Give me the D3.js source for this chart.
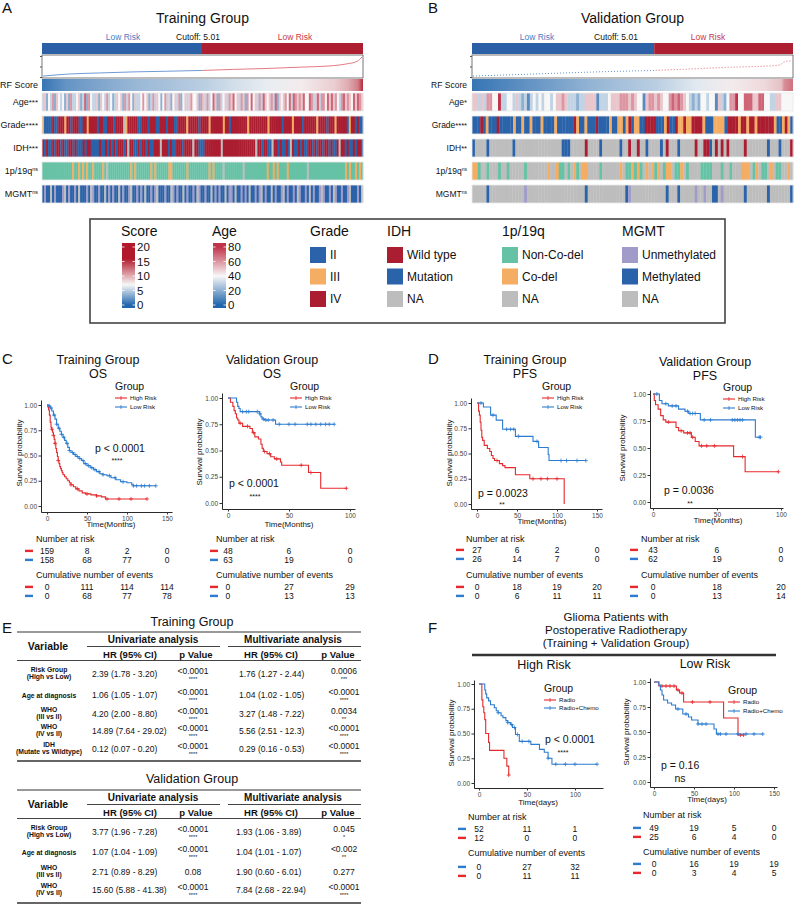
<!DOCTYPE html>
<html>
<head>
<meta charset="utf-8">
<script src="https://d3js.org/d3.v7.min.js"></script>
<style>
  body { margin: 0; background: #fff; }
  svg text { font-family: "Liberation Sans", Arial, sans-serif; fill: #111; }
</style>
</head>
<body>
<svg id="fig" width="794" height="905"></svg>
<script>
// ---------------- data ----------------
// heatmaps (samples sorted by RF score)
var nTrain = 317, cutTrain = 158, nValid = 111, cutValid = 63;
var scoreIdxTrain = [0, 24, 57, 90, 123, 158, 189, 222, 255, 288, 301, 311, 316];
var scoreTrain    = [0.7, 2.2, 3.1, 3.9, 4.4, 5.0, 5.8, 6.5, 7.5, 8.7, 10, 11.9, 15.3];
var scoreIdxValid = [0, 20, 43, 63, 77, 89, 100, 106, 107, 110];
var scoreValid    = [0.7, 2.2, 3.9, 5.0, 6.3, 7.5, 8.2, 9.2, 11.2, 12.4];

// age in decades, grade 2/3/4, IDH W/M/N, 1p19q C(non-codel)/D(codel)/N, MGMT U/M/N
var ageTrain = "3524 3625 4342 5263 3452 3726 4335 2543 6342 3545 2636 4253 3464 5236 3542 4635 2453 6245 3564 4526 5363 4752 6345 3657 4536 5264 7453 6375 4563 7254 5647 3765 6574 4763 5736 6475 7564 3675 6547 5765";
var gradeTrain = "3 2222 4 22 444 3 44 2 444 22 44 3 4444 2 44 22 444 2 4444 N 3 44444 22 444 2 444 22 444 2 444 22 4444 3 44444 2 4444 3 444444 3 44 2 44444444 3 444444444 3 444444 2 4444 3 4444 2 444444 3 4444 2 444 3 44444 2 3 44 2 4 22";
var idhTrain = "W M W MM W M WW M W MM WW M W MMM W M WW MMMM W M MWMWMWMW WW M W N WW MM W M WW M W MM WWW N WWW M W MM WWW M WWWW N WW MMM WWWWWWWW N WWWWWWWWWW WWWWWW N WW M WW MM N WW M W MM W M N W MM W M W MM WW M W M WW M WW M W MM W N WW M W MM W M WW M";
var codelTrain = "CCCCCCCCCCCCCCC D CC D C D C D CC D CCCC D C N CCCCCCCCCCC D C D CCCCCCC D C D CCCCCC DD CCCCCCC D CCCCCCCCCC D C D CCCC N CCCCCCCCC N CCCCCCCCCCC D CC D C D CCCC D CCCCCCCCC N CCCCCCCCCCCCCCCCCC D C D CC D C D C";
var mgmtTrain = "MUMM NMUM MMUN MUMM UMNM MMUM NUMM UMMN MUMU MMNM UMMU NMMU MUMN MMUM UNMM MUMM NUMU MMNM UMMU MNUM MUMM NMUM UMMN MUUM NMMU MUMN MMUM UNMU MMNM UMMU NMUM MUMN UMMU MNMU MMUN UMMU MNUM MUMM UNMM MUMN";

var ageValid = "553 5 3 66 44 8 33 44 3 5 323 1 34343 4434 5565 333 233 55 55 1 3334 5556 665654 4 1 566565 44 676765 4 3232 44 3 44 1 5 32 4 66 8 44 777 55 77 44 33 55 4444";
var gradeValid = "222 4 2 3 222 4 22222 3 22 3 22 3 222 3 2222 3 222222 4 3 22 3 222 4 2222 3 22 33 2 3 4 2 33 2 2 4444 222 3 4 22 4 33 4 33 4444 3 222 3333 2 4444 3 44 3 44 3 444444 3 22 3 4 3 2";
var idhValid = "M NNNN M NNNNNNNN M NNNNNNNNNNNNNNNN MMM NNNNN W NNNN M NNNNNN M NN W NN W NN M NNNN M N W NNN M NNNNN W NN WW M N W N W N W NNNNN W NNNNNNN M NNN M NNN W";
var codelValid = "DD C NN C NNN C NN C NNNNN C NNNNNNN D NN D CC N C N D C N DD NNNN C NNNNNN D N CC D C D C N D N D C D N C DD N CC D N C NNNN CCCC NNN C NN C NNN DDD N C D N CC N D N CC NN D N";
var mgmtValid = "NNNNN M NNNNNNNNNNNN U NNNNNNNNNNNNNNNNNNNN M NNNNNNNNNNNNN M U NNNNNNNNNNNN M NNN M NNNNN U NN U NN MM N U NNNNNNN M NNNNNNN M NNNNNNN M";

// Kaplan-Meier curves: [time, survival] steps, censor times
var osTrainHigh = [[0,1],[1,.98],[2,.95],[3,.9],[4,.83],[5,.78],[6,.76],[7,.73],[8,.7],[9,.66],[10,.62],[11,.57],[12,.53],[13,.49],[14,.45],[15,.42],[16,.39],[17,.37],[18,.35],[19,.33],[20,.31],[22,.29],[24,.27],[26,.25],[28,.23],[30,.21],[33,.19],[36,.17],[40,.15],[44,.13],[48,.12],[55,.11],[62,.1],[68,.09],[73,.07],[125,.07]];
var osTrainHighCens = [6, 8, 10, 14, 30, 38, 50, 62, 75, 90, 105, 125];
var osTrainLow = [[0,1],[2,.99],[4,.97],[6,.94],[8,.9],[10,.86],[12,.81],[14,.77],[16,.74],[18,.71],[20,.68],[22,.65],[24,.62],[26,.58],[28,.55],[30,.53],[33,.51],[36,.49],[40,.47],[43,.45],[46,.42],[50,.4],[54,.38],[58,.36],[62,.34],[66,.32],[70,.31],[75,.3],[80,.28],[86,.26],[92,.24],[100,.23],[106,.21],[108,.2],[136,.2]];
var osTrainLowCens = [3, 5, 9, 12, 15, 18, 21, 25, 28, 32, 35, 38, 41, 45, 48, 52, 56, 60, 65, 70, 78, 85, 95, 108, 112, 118, 122, 128, 136];
var osValidHigh = [[0,1],[2,.96],[4,.92],[5,.88],[6,.85],[7,.81],[8,.79],[9,.76],[12,.73],[18,.71],[20,.67],[22,.63],[25,.61],[27,.56],[28,.52],[29,.49],[32,.47],[35,.44],[38,.42],[43,.39],[44,.36],[66,.29],[76,.14],[97,.14]];
var osValidHighCens = [10, 16, 21, 30, 34, 40, 60, 68, 97];
var osValidLow = [[0,1],[6,1],[7,.96],[8,.92],[9,.9],[10,.87],[26,.85],[27,.82],[28,.8],[30,.79],[39,.75],[87,.75]];
var osValidLowCens = [12, 15, 17, 24, 26, 29, 31, 33, 37, 42, 50, 55, 65, 68, 72, 76, 80, 83, 87];

var pfsTrainHigh = [[0,1],[2,.92],[3,.88],[4,.81],[5,.73],[6,.66],[7,.63],[9,.58],[13,.55],[16,.52],[18,.48],[20,.45],[22,.43],[28,.4],[32,.38],[35,.36],[48,.29],[66,.25],[109,0]];
var pfsTrainHighCens = [25, 70, 80, 88, 100];
var pfsTrainLow = [[0,1],[8,.96],[17,.88],[24,.83],[32,.74],[48,.67],[70,.62],[77,.56],[89,.49],[90,.43],[136,.43]];
var pfsTrainLowCens = [5, 20, 37, 42, 46, 52, 75, 105, 112, 125, 136];
var pfsValidHigh = [[0,1],[1,.94],[2,.9],[4,.86],[6,.8],[8,.76],[10,.74],[18,.69],[20,.66],[24,.64],[30,.6],[33,.56],[36,.52],[63,.42],[72,.28],[98,.28]];
var pfsValidHighCens = [12, 22, 27, 29, 31, 38, 42, 48, 70, 98];
var pfsValidLow = [[0,1],[5,.94],[7,.91],[12,.89],[20,.86],[25,.84],[28,.82],[37,.76],[80,.6],[84,.6]];
var pfsValidLowCens = [3, 10, 15, 18, 27, 29, 31, 33, 40, 45, 62, 64, 66, 68, 70, 83, 84];

var rtHighRadio = [[0,1],[3,.84],[4,.77],[5,.71],[6,.64],[7,.5],[10,.41],[11,.33],[26,.25],[29,.17],[31,.08]];
var rtHighRadioCens = [31];
var rtHighChemo = [[0,1],[6,.94],[7,.9],[8,.86],[10,.83],[12,.79],[16,.76],[18,.73],[20,.71],[23,.68],[25,.66],[28,.63],[30,.61],[33,.59],[35,.56],[38,.49],[42,.42],[54,.39],[63,.34],[68,.31],[72,.25],[76,.19],[123,.19]];
var rtHighChemoCens = [20, 30, 34, 37, 40, 45, 52, 72, 80, 90, 100, 123];
var rtLowRadio = [[0,1],[6,.96],[28,.92],[32,.89],[37,.8],[87,.64],[105,.47],[112,.47]];
var rtLowRadioCens = [10, 15, 20, 25, 30, 35, 48, 70, 108, 112];
var rtLowChemo = [[0,1],[6,.97],[8,.92],[10,.87],[12,.82],[17,.79],[22,.77],[27,.73],[36,.68],[43,.65],[47,.62],[55,.58],[75,.53],[78,.48],[136,.48]];
var rtLowChemoCens = [30, 40, 55, 60, 65, 80, 83, 90, 105, 115, 125, 136];

// risk tables
var osTrainRisk = [[159, 8, 2, 0], [158, 68, 77, 0]], osTrainEvents = [[0, 111, 114, 114], [0, 68, 77, 78]];
var osValidRisk = [[48, 6, 0], [63, 19, 0]], osValidEvents = [[0, 27, 29], [0, 13, 13]];
var pfsTrainRisk = [[27, 6, 2, 0], [26, 14, 7, 0]], pfsTrainEvents = [[0, 18, 19, 20], [0, 6, 11, 11]];
var pfsValidRisk = [[43, 6, 0], [62, 19, 0]], pfsValidEvents = [[0, 18, 20], [0, 13, 14]];
var rtHighRisk = [[52, 11, 1], [12, 0, 0]], rtHighEvents = [[0, 27, 32], [0, 11, 11]];
var rtLowRisk = [[49, 19, 5, 0], [25, 6, 4, 0]], rtLowEvents = [[0, 16, 19, 19], [0, 3, 4, 5]];

// cox tables
var trainVars = [["Risk Group", "(High vs Low)"], ["Age at diagnosis"], ["WHO", "(III vs II)"], ["WHO", "(IV vs II)"], ["IDH", "(Mutate vs Wildtype)"]];
var trainUniHR = ["2.39 (1.78 - 3.20)", "1.06 (1.05 - 1.07)", "4.20 (2.00 - 8.80)", "14.89 (7.64 - 29.02)", "0.12 (0.07 - 0.20)"];
var trainUniP = ["<0.0001", "<0.0001", "<0.0001", "<0.0001", "<0.0001"];
var trainUniStars = ["****", "****", "****", "****", "****"];
var trainMultiHR = ["1.76 (1.27 - 2.44)", "1.04 (1.02 - 1.05)", "3.27 (1.48 - 7.22)", "5.56 (2.51 - 12.3)", "0.29 (0.16 - 0.53)"];
var trainMultiP = ["0.0006", "<0.0001", "0.0034", "<0.0001", "<0.0001"];
var trainMultiStars = ["***", "****", "**", "****", "****"];
var validVars = [["Risk Group", "(High vs Low)"], ["Age at diagnosis"], ["WHO", "(III vs II)"], ["WHO", "(IV vs II)"]];
var validUniHR = ["3.77 (1.96 - 7.28)", "1.07 (1.04 - 1.09)", "2.71 (0.89 - 8.29)", "15.60 (5.88 - 41.38)"];
var validUniP = ["<0.0001", "<0.0001", "0.08", "<0.0001"];
var validUniStars = ["****", "****", "", "****"];
var validMultiHR = ["1.93 (1.06 - 3.89)", "1.04 (1.01 - 1.07)", "1.90 (0.60 - 6.01)", "7.84 (2.68 - 22.94)"];
var validMultiP = ["0.045", "<0.002", "0.277", "<0.0001"];
var validMultiStars = ["*", "**", "", "****"];

// ---------------- drawing ----------------
var svg = d3.select("#fig");
var defs = svg.append("defs");

var RED = "#e5292d", BLUE = "#2c7cd0";
var HRED = "#ab1d31", HBLUE = "#2a63a9", ORANGE = "#f4ad62", GREEN = "#66c2a5", GREY = "#bdbdbd", PURPLE = "#a09cca";
var scoreColor = d3.scaleLinear().domain([0, 7, 16]).range(["#2166ac", "#f7f7f7", "#b2182b"]).clamp(true);
var ageColor = d3.scaleLinear().domain([0, 40, 80]).range(["#2166ac", "#f7f7f7", "#c0334a"]).clamp(true);
var gradeCol = { "2": HBLUE, "3": ORANGE, "4": HRED, "N": GREY };
var idhCol = { W: HRED, M: HBLUE, N: GREY };
var codelCol = { C: GREEN, D: ORANGE, N: GREY };
var mgmtCol = { U: PURPLE, M: HBLUE, N: GREY };

function txt(x, y, s, size, anchor) {
    var t = svg.append("text").attr("x", x).attr("y", y).style("font-size", size + "px").text(s);
    if (anchor) t.attr("text-anchor", anchor);
    return t;
}

function rowLabel(x, y, name, sup, size) {
    var t = svg.append("text").attr("x", x).attr("y", y).attr("text-anchor", "end").style("font-size", size + "px");
    t.append("tspan").text(name);
    if (sup === "ns") t.append("tspan").attr("dy", -3).style("font-size", (size - 3.5) + "px").text("ns");
    else if (sup) t.append("tspan").style("font-size", (size - 1) + "px").text(sup);
}

// panel letters
[["A", 2, 13], ["B", 428, 13], ["C", 2, 364], ["D", 428, 364], ["E", 2, 633], ["F", 428, 633]].forEach(function (p) {
    txt(p[1], p[2], p[0], 15);
});

function heatmap(o) {
    var x0 = o.x0, x1 = o.x1, w = x1 - x0;
    txt((x0 + x1) / 2, 23, o.title, 14, "middle");
    var ix = d3.scaleLinear().domain([0, o.n]).range([x0, x1]);
    svg.append("rect").attr("x", x0).attr("y", 43).attr("width", ix(o.cut) - x0).attr("height", 11).attr("fill", "#2b5fa6");
    svg.append("rect").attr("x", ix(o.cut)).attr("y", 43).attr("width", x1 - ix(o.cut)).attr("height", 11).attr("fill", "#ad1f30");
    txt(o.lowX, 40, "Low Risk", 8.5, "middle").style("fill", "#4a7cc2");
    txt(o.cutX, 40, "Cutoff: 5.01", 8.5, "middle");
    txt(o.highX, 40, "Low Risk", 8.5, "middle").style("fill", "#c6394a");

    // score curve
    svg.append("rect").attr("x", x0).attr("y", 55).attr("width", w).attr("height", 23)
        .attr("fill", "#fff").attr("stroke", "#555").attr("stroke-width", 0.8);
    var sx = d3.scaleLinear().domain([0, o.n - 1]).range([x0 + 1, x1 - 1]);
    var sy = d3.scaleLinear().domain([0, 16]).range([77, 56]);
    svg.append("g").attr("transform", "translate(" + x0 + ",0)")
        .call(d3.axisLeft(sy).tickValues([0, 8, 16]).tickSize(2).tickFormat(""))
        .call(function (a) { a.select(".domain").remove(); a.selectAll("line").attr("stroke", "#555"); });
    var pts = d3.zip(o.scoreIdx, o.score);
    var line = d3.line().curve(d3.curveMonotoneX).x(function (d) { return sx(d[0]); }).y(function (d) { return sy(d[1]); });
    var lowPts = pts.filter(function (d) { return d[0] <= o.cut; });
    var highPts = pts.filter(function (d) { return d[0] >= o.cut; });
    [[lowPts, "#5d8fd0"], [highPts, "#e06a78"]].forEach(function (s) {
        svg.append("path").datum(s[0]).attr("d", line).attr("fill", "none").attr("stroke", s[1])
            .attr("stroke-width", o.dotted ? 1 : 0.9).attr("stroke-dasharray", o.dotted ? "1,2" : null);
    });

    // RF score gradient row
    var grad = defs.append("linearGradient").attr("id", o.id + "-rf");
    grad.selectAll("stop").data(pts).enter().append("stop")
        .attr("offset", function (d) { return d[0] / (o.n - 1); })
        .attr("stop-color", function (d) { return scoreColor(d[1]); });
    svg.append("rect").attr("x", x0).attr("y", 79).attr("width", w).attr("height", 12).attr("fill", "url(#" + o.id + "-rf)");
    rowLabel(o.labX, 88, "RF Score", "", o.labSize);

    var rows = [
        { name: "Age", sup: o.sups[0], data: o.age, col: function (c) { return ageColor(+c * 10); } },
        { name: "Grade", sup: o.sups[1], data: o.grade, col: function (c) { return gradeCol[c]; } },
        { name: "IDH", sup: o.sups[2], data: o.idh, col: function (c) { return idhCol[c]; } },
        { name: "1p/19q", sup: o.sups[3], data: o.codel, col: function (c) { return codelCol[c]; } },
        { name: "MGMT", sup: o.sups[4], data: o.mgmt, col: function (c) { return mgmtCol[c]; } }
    ];
    var rowTop = [93, 116, 139, 162, 185];
    rows.forEach(function (r, i) {
        var cells = r.data.replace(/ /g, "").split("");
        var bx = d3.scaleBand().domain(d3.range(cells.length)).range([x0, x1]);
        svg.append("g").selectAll("rect").data(cells).enter().append("rect")
            .attr("x", function (d, j) { return bx(j); })
            .attr("y", rowTop[i]).attr("width", bx.bandwidth() + 0.3).attr("height", 18)
            .attr("fill", r.col);
        svg.append("rect").attr("x", x0).attr("y", rowTop[i]).attr("width", w).attr("height", 18)
            .attr("fill", "none").attr("stroke", "#e8e8e8").attr("stroke-width", 0.8);
        rowLabel(o.labX, rowTop[i] + 12, r.name, r.sup, o.labSize);
    });
}

heatmap({ id: "tr", x0: 42, x1: 363, n: nTrain, cut: cutTrain, title: "Training Group",
    lowX: 123, cutX: 198, highX: 295, labX: 38, labSize: 9,
    scoreIdx: scoreIdxTrain, score: scoreTrain, dotted: false,
    sups: ["***", "****", "***", "ns", "ns"],
    age: ageTrain, grade: gradeTrain, idh: idhTrain, codel: codelTrain, mgmt: mgmtTrain });
heatmap({ id: "va", x0: 472, x1: 793, n: nValid, cut: cutValid, title: "Validation Group",
    lowX: 537, cutX: 616, highX: 708, labX: 467, labSize: 8.5,
    scoreIdx: scoreIdxValid, score: scoreValid, dotted: true,
    sups: ["*", "****", "**", "ns", "ns"],
    age: ageValid, grade: gradeValid, idh: idhValid, codel: codelValid, mgmt: mgmtValid });

// ---------- heatmap legend ----------
svg.append("rect").attr("x", 90).attr("y", 219).attr("width", 635).attr("height", 104)
    .attr("fill", "none").attr("stroke", "#444").attr("stroke-width", 1.6);

function colorbar(id, x, title, color, ticks, max) {
    txt(x - 1, 236, title, 14);
    var ty = d3.scaleLinear().domain([0, max]).range([305, 247]);
    var stops = d3.sort(color.domain().concat(ticks));
    var g = defs.append("linearGradient").attr("id", id).attr("x1", 0).attr("y1", 1).attr("x2", 0).attr("y2", 0);
    g.selectAll("stop").data(stops).enter().append("stop")
        .attr("offset", function (d) { return (308 - ty(d)) / 65; })
        .attr("stop-color", function (d) { return color(d); });
    svg.append("rect").attr("x", x).attr("y", 243).attr("width", 13).attr("height", 65).attr("fill", "url(#" + id + ")");
    ticks.forEach(function (t) {
        svg.append("line").attr("x1", x).attr("x2", x + 2.5).attr("y1", ty(t)).attr("y2", ty(t)).attr("stroke", "#fff").attr("stroke-width", 0.8);
        svg.append("line").attr("x1", x + 10.5).attr("x2", x + 13).attr("y1", ty(t)).attr("y2", ty(t)).attr("stroke", "#fff").attr("stroke-width", 0.8);
        txt(x + 15, ty(t) + 4, t, 11.5);
    });
}
colorbar("lg-score", 122, "Score", scoreColor, [0, 5, 10, 15, 20], 20);
colorbar("lg-age", 213, "Age", ageColor, [0, 20, 40, 60, 80], 80);

var legendGroups = [
    { title: "Grade", x: 310, labels: ["II", "III", "IV"], colors: [HBLUE, ORANGE, HRED] },
    { title: "IDH", x: 387, labels: ["Wild type", "Mutation", "NA"], colors: [HRED, HBLUE, GREY] },
    { title: "1p/19q", x: 502, labels: ["Non-Co-del", "Co-del", "NA"], colors: [GREEN, ORANGE, GREY] },
    { title: "MGMT", x: 622, labels: ["Unmethylated", "Methylated", "NA"], colors: [PURPLE, HBLUE, GREY] }
];
var keyY = [247, 268.5, 291];
legendGroups.forEach(function (lg) {
    txt(lg.x, 236, lg.title, 14);
    lg.labels.forEach(function (l, i) {
        svg.append("rect").attr("x", lg.x).attr("y", keyY[i]).attr("width", 16).attr("height", 16).attr("fill", lg.colors[i]);
        txt(lg.x + 20, keyY[i] + 12, l, 12);
    });
});

// ---------- Kaplan-Meier plots ----------
function survAt(pts, t) {
    var s = pts[0][1];
    pts.forEach(function (p) { if (p[0] <= t) s = p[1]; });
    return s;
}

function km(o) {
    var g = svg.append("g");
    var x = d3.scaleLinear().domain(o.xd).range([o.ax, o.axR]);
    var y = d3.scaleLinear().domain([0, 1]).range([o.y0, o.y1]);
    var yAxis = d3.scaleLinear().domain([y.invert(o.ay), y.invert(o.yTop)]).range([o.ay, o.yTop]);

    var xa = g.append("g").attr("transform", "translate(0," + o.ay + ")")
        .call(d3.axisBottom(x).tickValues(o.ticks).tickSize(2.5).tickSizeOuter(0).tickPadding(1.5));
    var ya = g.append("g").attr("transform", "translate(" + o.ax + ",0)")
        .call(d3.axisLeft(yAxis).tickValues([0, 0.25, 0.5, 0.75, 1]).tickFormat(d3.format(".2f"))
            .tickSize(2.5).tickSizeOuter(0).tickPadding(1.5));
    [xa, ya].forEach(function (a) {
        a.select(".domain").attr("stroke", "#111").attr("stroke-width", 0.9);
        a.selectAll(".tick line").attr("stroke", "#333");
        a.selectAll(".tick text").style("font-size", "6.5px").style("fill", "#444");
    });

    o.curves.forEach(function (c) {
        g.append("path").datum(c.pts).attr("fill", "none").attr("stroke", c.color).attr("stroke-width", 1.1)
            .attr("d", d3.line().curve(d3.curveStepAfter)
                .x(function (d) { return x(d[0]); }).y(function (d) { return y(d[1]); }));
        g.selectAll(null).data(c.cens).enter().append("path")
            .attr("d", function (t) {
                var px = x(t), py = y(survAt(c.pts, t));
                return "M" + (px - 2) + "," + py + "h4M" + px + "," + (py - 2) + "v4";
            })
            .attr("stroke", c.color).attr("stroke-width", 0.8);
    });

    if (o.title) o.title.forEach(function (s, i) { txt(o.tx, o.ty[i], s, 12.5, "middle"); });

    // legend
    txt(o.lgx, o.lgy, "Group", 10.5);
    o.curves.forEach(function (c, i) {
        var yy = o.itemY[i];
        g.append("line").attr("x1", o.lgx).attr("x2", o.lgx + 12).attr("y1", yy).attr("y2", yy).attr("stroke", c.color).attr("stroke-width", 1.1);
        g.append("path").attr("d", "M" + (o.lgx + 6) + "," + (yy - 2) + "v4").attr("stroke", c.color).attr("stroke-width", 0.8);
        txt(o.lgx + 15, yy + 2.2, c.name, 6.2);
    });

    txt(o.px, o.py, o.p, 10.5);
    txt(o.sx, o.sy, o.stars, o.stars === "ns" ? 10.5 : 7, "middle");

    svg.append("text").attr("transform", "translate(" + o.ylx + "," + o.yly + ") rotate(-90)")
        .attr("text-anchor", "middle").style("font-size", "8px").text("Survival probability");
    txt(o.xlx, o.xly, o.xlab, 8, "middle");

    function table(label, rows, yLabel, rowY) {
        txt(o.tabX, yLabel, label, 9);
        rows.forEach(function (vals, i) {
            g.append("rect").attr("x", o.dashX).attr("y", rowY[i] - 4.3).attr("width", 8).attr("height", 2.4).attr("fill", o.rowColors[i]);
            g.selectAll(null).data(vals).enter().append("text")
                .attr("x", function (d, j) { return x(o.ticks[j]); }).attr("y", rowY[i])
                .attr("text-anchor", "middle").style("font-size", "8.5px").text(function (d) { return d; });
        });
    }
    table("Number at risk", o.risk, o.riskY, o.riskRows);
    table("Cumulative number of events", o.events, o.evY, o.evRows);
}

var riskLow = ["High Risk", "Low Risk"];
km({ ax: 41, axR: 172, xd: [-7.5, 156.25], ticks: [0, 50, 100, 150], y0: 506, y1: 405, ay: 512, yTop: 400,
    title: ["Training Group", "OS"], tx: 98, ty: [364, 378],
    curves: [{ name: riskLow[0], color: RED, pts: osTrainHigh, cens: osTrainHighCens },
             { name: riskLow[1], color: BLUE, pts: osTrainLow, cens: osTrainLowCens }],
    lgx: 115, lgy: 390, itemY: [398, 407],
    p: "p < 0.0001", px: 95, py: 452, stars: "****", sx: 117, sy: 463,
    ylx: 22, yly: 453, xlab: "Time(Months)", xlx: 111, xly: 527,
    tabX: 36, dashX: 25, riskY: 542, riskRows: [554, 563], evY: 578, evRows: [590, 599],
    risk: osTrainRisk, events: osTrainEvents, rowColors: [RED, BLUE] });

km({ ax: 222, axR: 355, xd: [-4.9, 104.1], ticks: [0, 50, 100], y0: 503, y1: 398, ay: 509, yTop: 393,
    title: ["Validation Group", "OS"], tx: 272, ty: [364, 378],
    curves: [{ name: riskLow[0], color: RED, pts: osValidHigh, cens: osValidHighCens },
             { name: riskLow[1], color: BLUE, pts: osValidLow, cens: osValidLowCens }],
    lgx: 290, lgy: 390, itemY: [398, 407],
    p: "p < 0.0001", px: 229, py: 487, stars: "****", sx: 255, sy: 499,
    ylx: 202, yly: 452, xlab: "Time(Months)", xlx: 289, xly: 527,
    tabX: 216, dashX: 210, riskY: 542, riskRows: [554, 563], evY: 578, evRows: [590, 599],
    risk: osValidRisk, events: osValidEvents, rowColors: [RED, BLUE] });

km({ ax: 471, axR: 602, xd: [-7.5, 156.25], ticks: [0, 50, 100, 150], y0: 504, y1: 403, ay: 509, yTop: 398,
    title: ["Training Group", "PFS"], tx: 525, ty: [364, 378],
    curves: [{ name: riskLow[0], color: RED, pts: pfsTrainHigh, cens: pfsTrainHighCens },
             { name: riskLow[1], color: BLUE, pts: pfsTrainLow, cens: pfsTrainLowCens }],
    lgx: 542, lgy: 390, itemY: [398, 407],
    p: "p = 0.0023", px: 478, py: 497, stars: "**", sx: 502, sy: 507,
    ylx: 452, yly: 453, xlab: "Time(Months)", xlx: 542, xly: 524,
    tabX: 466, dashX: 456, riskY: 542, riskRows: [553, 562], evY: 578, evRows: [590, 599],
    risk: pfsTrainRisk, events: pfsTrainEvents, rowColors: [RED, BLUE] });

km({ ax: 650, axR: 783, xd: [-2.34, 101.6], ticks: [0, 50, 100], y0: 502, y1: 394, ay: 508, yTop: 390,
    title: ["Validation Group", "PFS"], tx: 705, ty: [366, 380],
    curves: [{ name: riskLow[0], color: RED, pts: pfsValidHigh, cens: pfsValidHighCens },
             { name: riskLow[1], color: BLUE, pts: pfsValidLow, cens: pfsValidLowCens }],
    lgx: 723, lgy: 391, itemY: [399, 408],
    p: "p = 0.0036", px: 664, py: 494, stars: "**", sx: 690, sy: 506,
    ylx: 625, yly: 448, xlab: "Time(Months)", xlx: 718, xly: 523,
    tabX: 641, dashX: 630, riskY: 542, riskRows: [553, 562], evY: 578, evRows: [590, 599],
    risk: pfsValidRisk, events: pfsValidEvents, rowColors: [RED, BLUE] });

// panel F header
["Glioma Patients with", "Postoperative Radiotherapy", "(Training + Validation Group)"].forEach(function (s, i) {
    txt(616, [621, 634, 647][i], s, 11.5, "middle");
});
svg.append("line").attr("x1", 472).attr("x2", 776).attr("y1", 655).attr("y2", 655).attr("stroke", "#333").attr("stroke-width", 2.5);
txt(544, 669, "High Risk", 12.5, "middle");
txt(705, 668, "Low Risk", 12.5, "middle");

km({ ax: 474, axR: 603, xd: [-5.2, 129.2], ticks: [0, 50, 100], y0: 783, y1: 684, ay: 788, yTop: 680,
    curves: [{ name: "Radio", color: RED, pts: rtHighRadio, cens: rtHighRadioCens },
             { name: "Radio+Chemo", color: BLUE, pts: rtHighChemo, cens: rtHighChemoCens }],
    lgx: 544, lgy: 692, itemY: [700, 708],
    p: "p < 0.0001", px: 545, py: 743, stars: "****", sx: 563, sy: 755,
    ylx: 454, yly: 733, xlab: "Time(days)", xlx: 538, xly: 805,
    tabX: 468, dashX: 458, riskY: 820, riskRows: [832, 841], evY: 856, evRows: [870, 879],
    risk: rtHighRisk, events: rtHighEvents, rowColors: [BLUE, RED] });

km({ ax: 650, axR: 777, xd: [-5, 153.75], ticks: [0, 50, 100, 150], y0: 782, y1: 682, ay: 787, yTop: 678,
    curves: [{ name: "Radio", color: RED, pts: rtLowRadio, cens: rtLowRadioCens },
             { name: "Radio+Chemo", color: BLUE, pts: rtLowChemo, cens: rtLowChemoCens }],
    lgx: 728, lgy: 694, itemY: [702, 711],
    p: "p = 0.16", px: 661, py: 769, stars: "ns", sx: 680, sy: 782,
    ylx: 629, yly: 732, xlab: "Time(days)", xlx: 707, xly: 802,
    tabX: 643, dashX: 633, riskY: 818, riskRows: [831, 840], evY: 855, evRows: [867, 876],
    risk: rtLowRisk, events: rtLowEvents, rowColors: [BLUE, RED] });

// ---------- Cox tables ----------
function hline(x1, x2, y, color, w) {
    svg.append("line").attr("x1", x1).attr("x2", x2).attr("y1", y).attr("y2", y).attr("stroke", color).attr("stroke-width", w);
}
function bold(x, y, s, size, anchor) {
    return txt(x, y, s, size, anchor || "middle").style("font-weight", "bold");
}

function coxTable(o) {
    txt(192, o.titleY, o.title, 12.5, "middle");
    hline(17, 361, o.topY, "#777", 1.6);
    bold(48, o.topY + 18, "Variable", 10.5);
    bold(153, o.topY + 11, "Univariate analysis", 10);
    bold(293, o.topY + 11, "Multivariate analysis", 10);
    hline(87, 220, o.topY + 14.5, "#444", 1);
    hline(228, 361, o.topY + 14.5, "#444", 1);
    [["HR (95% CI)", 130], ["p Value", 196], ["HR (95% CI)", 271], ["p Value", 338]].forEach(function (h) {
        bold(h[1], o.topY + 26, h[0], 9.5);
    });
    hline(17, 361, o.topY + 28.5, "#444", 1);

    o.vars.forEach(function (v, i) {
        var c = o.rowY[i];
        if (v.length === 2) {
            bold(49, c - 2, v[0], 6.8);
            bold(49, c + 4.5, v[1], 6.8);
        } else {
            bold(49, c + 2.5, v[0], 6.8);
        }
        txt(92, c + 3, o.uniHR[i], 8.5);
        txt(o.multiX, c + 3, o.multiHR[i], 8.5);
        [[o.uniP[i], o.uniStars[i], 193], [o.multiP[i], o.multiStars[i], 344]].forEach(function (p) {
            if (p[1]) {
                txt(p[2], c - 0.5, p[0], 8.5, "middle");
                txt(p[2], c + 6.5, p[1], 5.5, "middle");
            } else {
                txt(p[2], c + 3, p[0], 8.5, "middle");
            }
        });
    });
    hline(17, 361, o.botY, "#333", 1.6);
}

coxTable({ title: "Training Group", titleY: 626, topY: 632, rowY: [674, 695, 714, 731, 749], botY: 761, multiX: 239,
    vars: trainVars, uniHR: trainUniHR, uniP: trainUniP, uniStars: trainUniStars,
    multiHR: trainMultiHR, multiP: trainMultiP, multiStars: trainMultiStars });
coxTable({ title: "Validation Group", titleY: 783, topY: 790, rowY: [832, 852, 872, 890], botY: 903, multiX: 236,
    vars: validVars, uniHR: validUniHR, uniP: validUniP, uniStars: validUniStars,
    multiHR: validMultiHR, multiP: validMultiP, multiStars: validMultiStars });
</script>
</body>
</html>
